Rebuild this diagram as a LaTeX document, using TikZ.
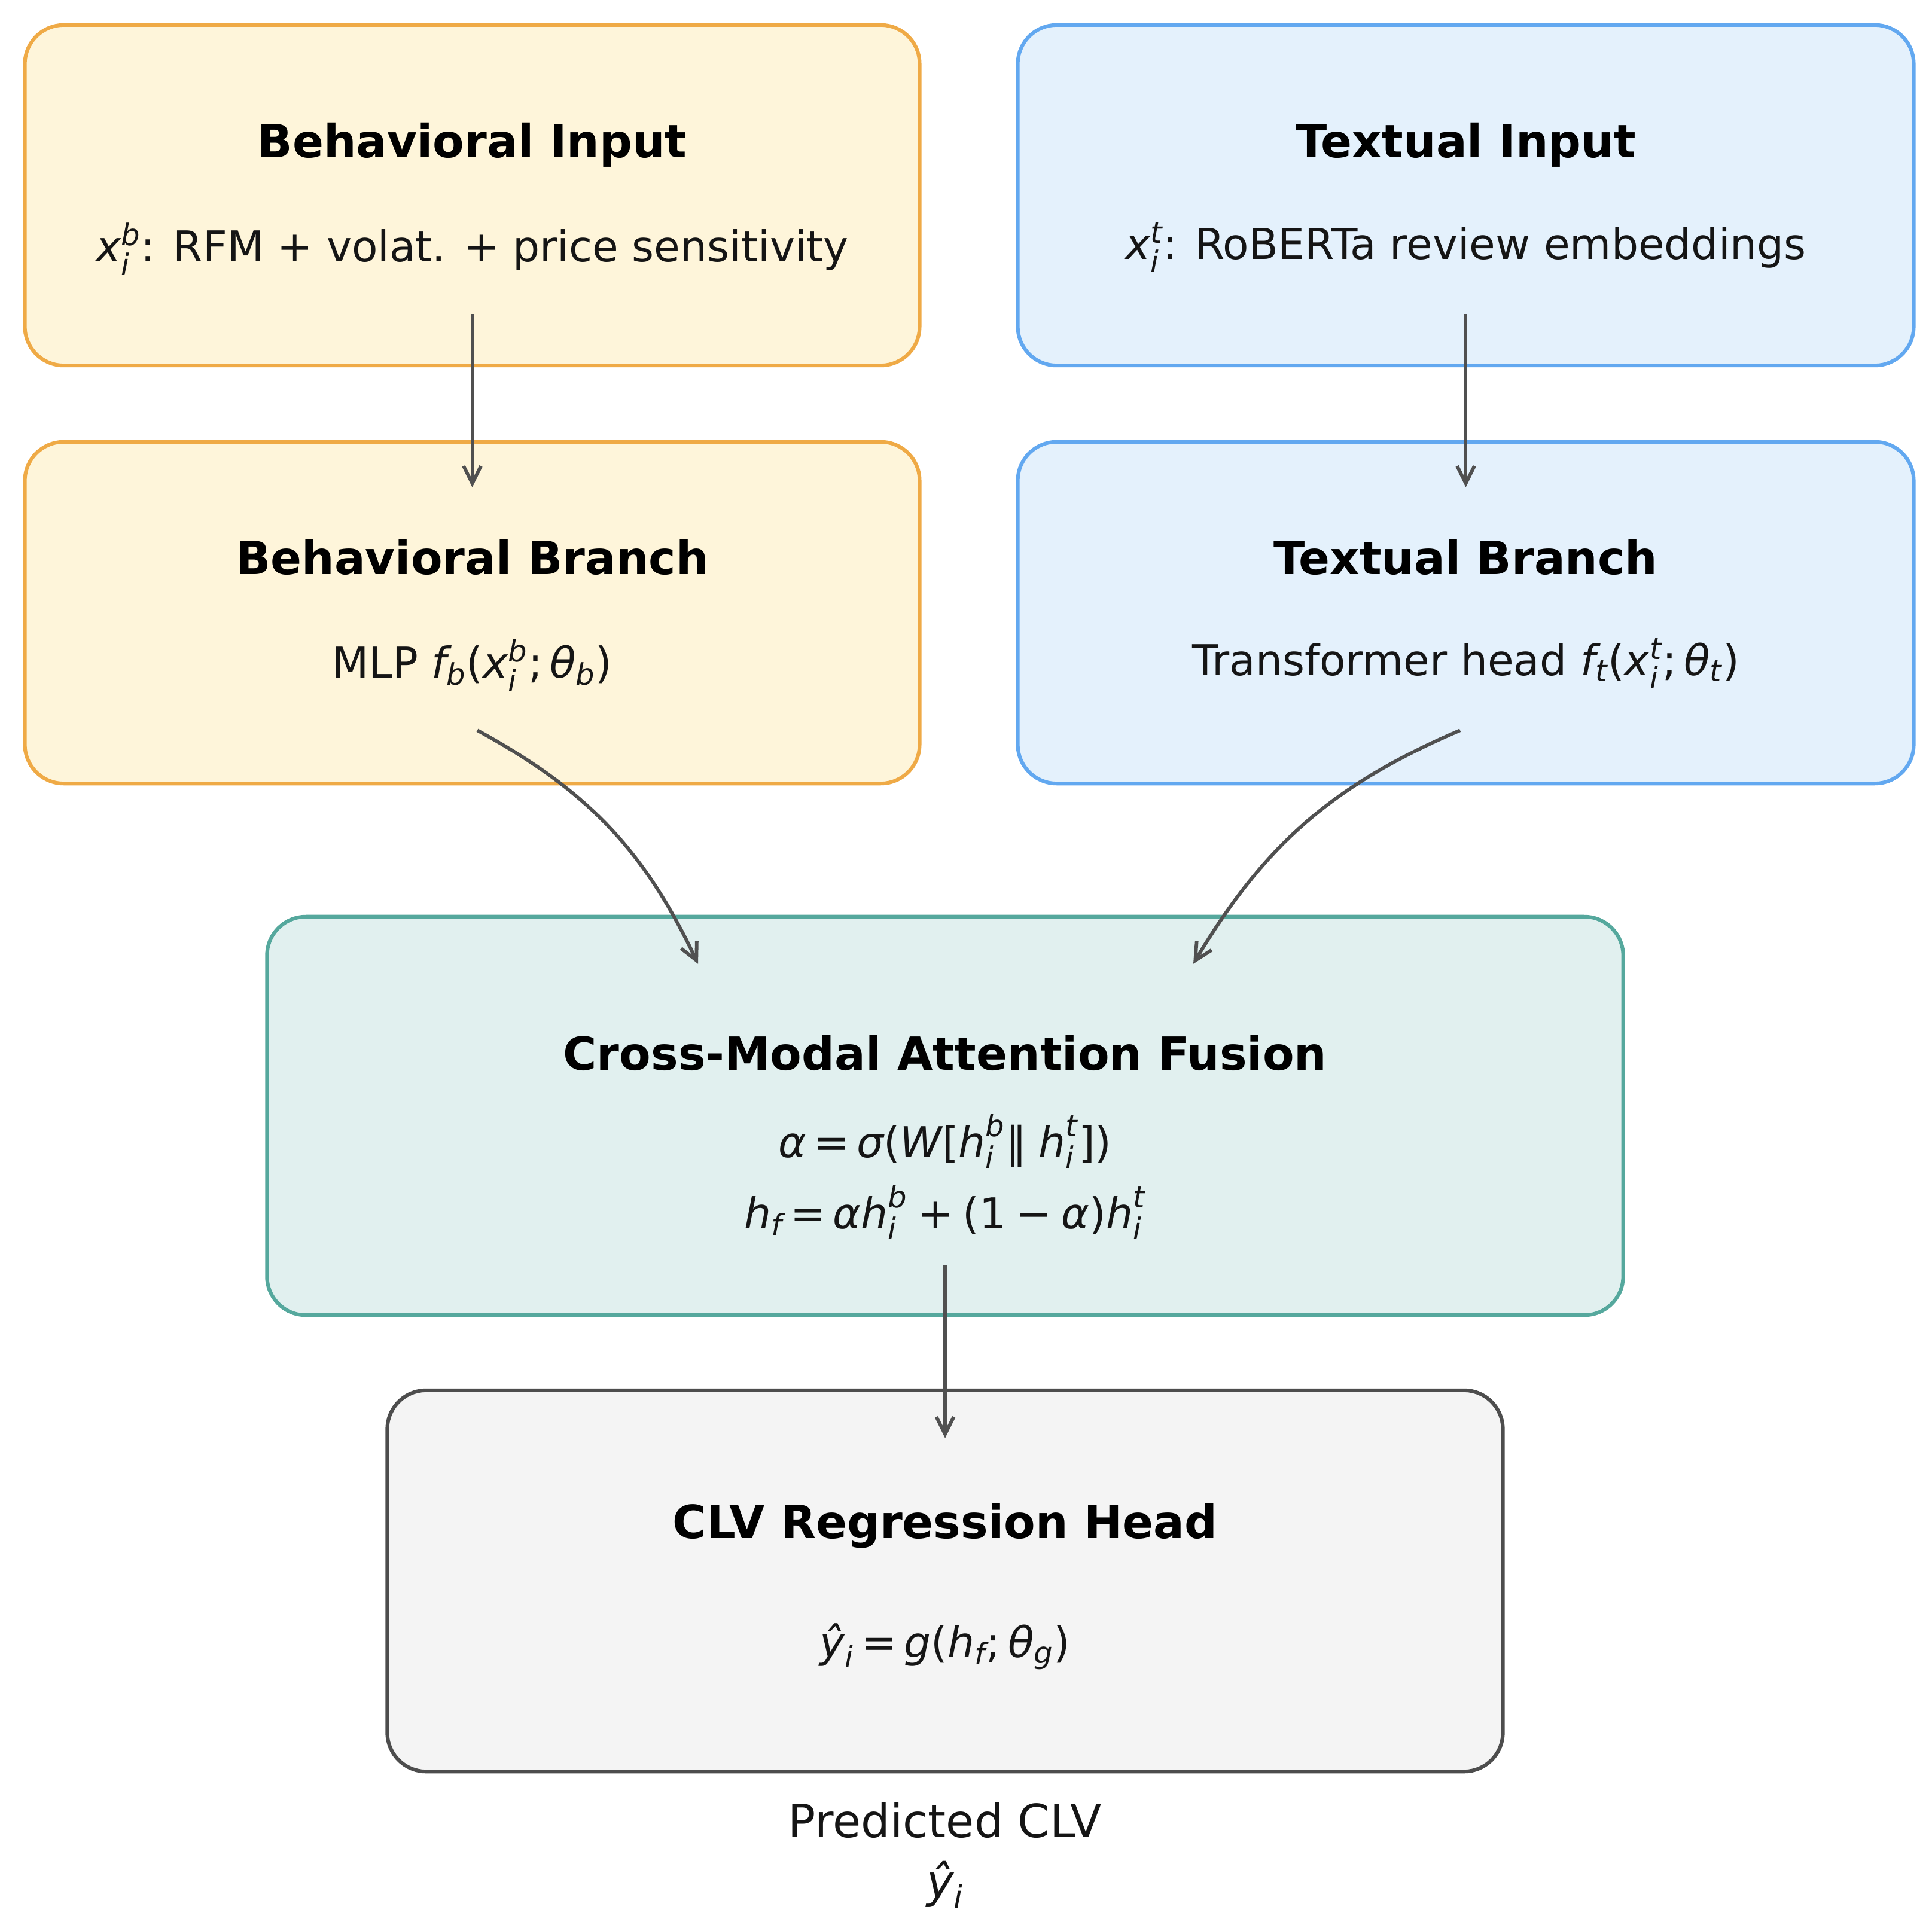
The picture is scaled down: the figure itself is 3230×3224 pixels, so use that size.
\documentclass[tikz,border=0pt]{standalone}
\usepackage{fontspec}
\usepackage{amsmath}
\setmainfont{DejaVu Sans}
\usetikzlibrary{arrows.meta,calc}
\definecolor{ostroke}{HTML}{EFAA46}
\definecolor{ofill}{HTML}{FEF5DA}
\definecolor{bstroke}{HTML}{62A8F0}
\definecolor{bfill}{HTML}{E4F1FC}
\definecolor{tstroke}{HTML}{55A89D}
\definecolor{tfill}{HTML}{E1F0EF}
\definecolor{gstroke}{HTML}{4D4D4D}
\definecolor{gfill}{HTML}{F4F4F4}
\definecolor{arrowc}{HTML}{505050}
\definecolor{txt}{HTML}{151515}
\newcommand{\mi}[1]{\text{\itshape #1}}
\newcommand{\tx}[1]{\text{#1}}
\newcommand{\meq}{\mskip3mu\text{=}\mskip3mu}
\newcommand{\mpl}{\mskip4mu\text{+}\mskip4mu}
\newcommand{\mmn}{\mskip4mu\text{−}\mskip4mu}
\begin{document}
\begin{tikzpicture}[x=0.01cm,y=-0.01cm,
  box/.style={draw, rounded corners=0.65cm, line width=1.75pt, inner sep=0pt},
  obox/.style={box, draw=ostroke, fill=ofill},
  bbox/.style={box, draw=bstroke, fill=bfill},
  tbox/.style={box, draw=tstroke, fill=tfill},
  gbox/.style={box, draw=gstroke, fill=gfill},
  ttl/.style={anchor=base, inner sep=0pt, text=black, font=\fontsize{21.8}{26}\selectfont\bfseries},
  bdy/.style={anchor=base, inner sep=0pt, text=txt, font=\fontsize{20.2}{24}\selectfont},
  lbl/.style={anchor=base, inner sep=0pt, text=txt, font=\fontsize{21.8}{26}\selectfont},
  conn/.style={draw=arrowc, line width=1.65pt, -{Straight Barb[length=0.29cm, width=0.29cm]}}
]
\useasboundingbox (0,0) rectangle (3230,3224);

% boxes
\node[obox, minimum width=14.95cm, minimum height=5.69cm] (bi) at (789.5,326.5) {};
\node[bbox, minimum width=14.97cm, minimum height=5.69cm] (ti) at (2450.5,326.5) {};
\node[obox, minimum width=14.95cm, minimum height=5.71cm] (bb) at (789.5,1024.5) {};
\node[bbox, minimum width=14.97cm, minimum height=5.71cm] (tb) at (2450.5,1024.5) {};
\node[tbox, minimum width=22.66cm, minimum height=6.66cm] (fu) at (1580,1866) {};
\node[gbox, minimum width=18.64cm, minimum height=6.37cm] (clv) at (1580,2643.5) {};

% texts
\node[ttl] (bi-t) at (789.5,263) {Behavioral Input};
\node[bdy] (bi-b) at (789.5,437) {$\mi{x}^{\mi{b}}_{\mi{i}}$: RFM + volat. + price sensitivity};
\node[ttl] (ti-t) at (2450.5,263) {Textual Input};
\node[bdy] (ti-b) at (2450.5,433) {$\mi{x}^{\mi{t}}_{\mi{i}}$: RoBERTa review embeddings};
\node[ttl] (bb-t) at (789.5,960) {Behavioral Branch};
\node[bdy] (bb-b) at (789.5,1133) {MLP $\mi{f}_{\mi{b}}\tx{(}\mi{x}^{\mi{b}}_{\mi{i}}\tx{;}\,\mi{θ}_{\mi{b}}\tx{)}$};
\node[ttl] (tb-t) at (2450.5,960) {Textual Branch};
\node[bdy] (tb-b) at (2450.5,1129) {Transformer head $\mi{f}_{\mi{t}}\tx{(}\mi{x}^{\mi{t}}_{\mi{i}}\tx{;}\,\mi{θ}_{\mi{t}}\tx{)}$};
\node[ttl] (fu-t) at (1580,1789) {Cross-Modal Attention Fusion};
\node[bdy] (fu-e1) at (1580,1935) {$\mi{α}\meq\mi{σ}\tx{(}\mi{W}\tx{[}\mi{h}^{\mi{b}}_{\mi{i}}\tx{‖}\;\mi{h}^{\mi{t}}_{\mi{i}}\tx{])}$};
\node[bdy] (fu-e2) at (1580,2054) {$\mi{h}_{\mi{f}}\meq\mi{α}\mi{h}^{\mi{b}}_{\mi{i}}\mpl\tx{(1}\mmn\mi{α}\tx{)}\mi{h}^{\mi{t}}_{\mi{i}}$};
\node[ttl] (clv-t) at (1580,2572) {CLV Regression Head};
\node[bdy] (clv-e) at (1580,2771) {$\mi{ŷ}_{\mi{i}}\meq\mi{g}\tx{(}\mi{h}_{\mi{f}}\tx{;}\,\mi{θ}_{\mi{g}}\tx{)}$};
\node[lbl] (pred) at (1580,3072) {Predicted CLV};
\node[lbl] (pred-y) at (1580,3173) {$\mi{ŷ}_{\mi{i}}$};

% connector end points
\coordinate (bi-out) at ($(bi.center)+(0,198.5)$);
\coordinate (bb-in)  at ($(bb.north)+(0,79)$);
\coordinate (ti-out) at ($(ti.center)+(0,198.5)$);
\coordinate (tb-in)  at ($(tb.north)+(0,79)$);
\coordinate (bb-out) at ($(bb.south)+(8.5,-92)$);
\coordinate (tb-out) at ($(tb.south)+(-9.5,-92)$);
\coordinate (fu-inl) at ($(fu.north)+(-413,82)$);
\coordinate (fu-inr) at ($(fu.north)+(415,82)$);
\coordinate (fu-out) at ($(fu.south)+(0,-87)$);
\coordinate (clv-in) at ($(clv.north)+(0,83)$);

% connectors
\draw[conn] (bi-out) -- (bb-in);
\draw[conn] (ti-out) -- (tb-in);
\draw[conn] (bb-out) to[bend left=18] (fu-inl);
\draw[conn] (tb-out) to[bend right=18] (fu-inr);
\draw[conn] (fu-out) -- (clv-in);
\end{tikzpicture}
\end{document}
